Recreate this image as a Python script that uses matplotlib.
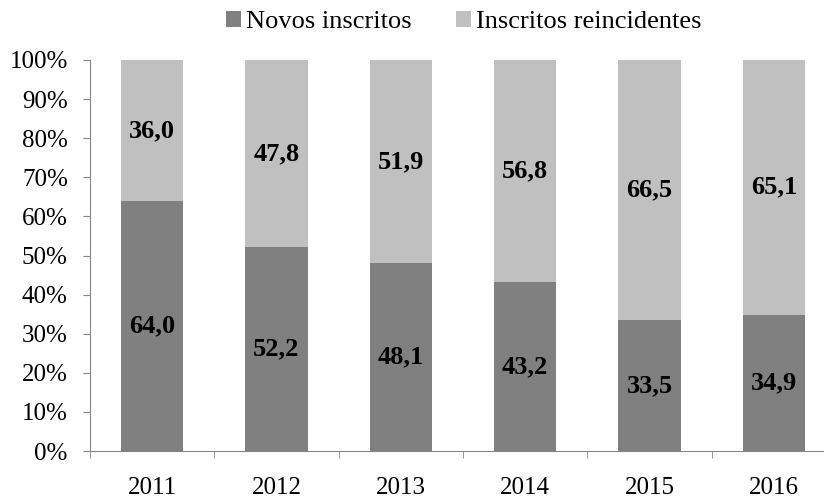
import matplotlib.pyplot as plt
import numpy as np

anos = ['2011', '2012', '2013', '2014', '2015', '2016']
novos = [64.0, 52.2, 48.1, 43.2, 33.5, 34.9]
reincidentes = [36.0, 47.8, 51.9, 56.8, 66.5, 65.1]

cor_novos = '#808080'
cor_reinc = '#c0c0c0'

plt.rcParams['font.family'] = ['Liberation Serif', 'DejaVu Serif']

fig = plt.figure(figsize=(8.24, 4.99), dpi=100)
ax = fig.add_axes([90 / 824, 48 / 499, 746 / 824, 391 / 499])

x = np.arange(len(anos))
larg = 0.5
ax.bar(x, novos, larg, color=cor_novos, label='Novos inscritos')
ax.bar(x, reincidentes, larg, bottom=novos, color=cor_reinc, label='Inscritos reincidentes')

for i in range(len(anos)):
    ax.text(x[i], novos[i] / 2, f'{novos[i]:.1f}'.replace('.', ','),
            ha='center', va='center', fontsize=19, fontweight='bold')
    ax.text(x[i], novos[i] + reincidentes[i] / 2, f'{reincidentes[i]:.1f}'.replace('.', ','),
            ha='center', va='center', fontsize=19, fontweight='bold')

ax.set_xlim(-0.5, len(anos) - 0.5)
ax.set_ylim(0, 100)
ax.set_yticks(np.arange(0, 101, 10))
ax.set_yticklabels([f'{v}%' for v in range(0, 101, 10)])
ax.set_xticks(x)
ax.set_xticklabels(anos)
ax.set_xticks(np.arange(-0.5, len(anos)), minor=True)
ax.tick_params(axis='x', which='major', length=0, pad=19, labelsize=18)
ax.tick_params(axis='x', which='minor', length=5, color='#868686')
ax.tick_params(axis='y', length=5, color='#868686', labelsize=18, pad=11)

for s in ['top', 'right']:
    ax.spines[s].set_visible(False)
for s in ['left', 'bottom']:
    ax.spines[s].set_color('#868686')

fig.legend(loc='center', bbox_to_anchor=(464 / 824, 1 - 22 / 499), ncol=2, frameon=False,
           fontsize=19, handlelength=0.55, handleheight=0.55, handletextpad=0.2,
           columnspacing=1.7)

fig.savefig('out.png', dpi=100)
